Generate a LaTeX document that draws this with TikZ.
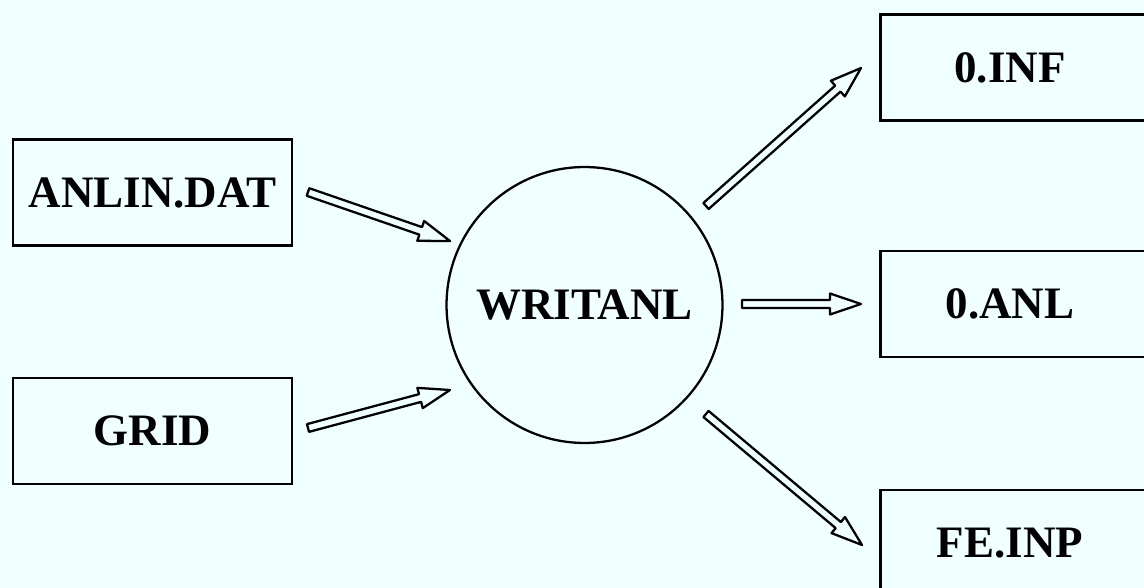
\documentclass[tikz,border=0pt]{standalone}
\usepackage{fontspec}
\setmainfont{Liberation Serif}
\usetikzlibrary{calc}
\definecolor{bgc}{HTML}{F0FFFF}
\tikzset{
  box/.style={draw, line width=1.3pt, minimum width=5.58cm, minimum height=2.12cm, inner sep=0pt},
  txt/.style={font=\fontsize{25.6pt}{30pt}\selectfont\bfseries},
  hollow/.style={draw, line width=1.3pt, line join=round}
}
\newcommand\hollowarrow[2]{%
  \draw[hollow] let \p1=($(#2)-(#1)$), \n1={atan2(\y1,\x1)} in
    ($(#1)+(\n1+90:0.08cm)$) --
    ($(#2)+(\n1+180:0.62cm)+(\n1+90:0.08cm)$) --
    ($(#2)+(\n1+180:0.62cm)+(\n1+90:0.21cm)$) --
    (#2) --
    ($(#2)+(\n1+180:0.62cm)+(\n1-90:0.21cm)$) --
    ($(#2)+(\n1+180:0.62cm)+(\n1-90:0.08cm)$) --
    ($(#1)+(\n1-90:0.08cm)$) -- cycle;}
\begin{document}
\begin{tikzpicture}[x=0.02cm,y=-0.02cm]
\fill[bgc] (0,0) rectangle (1144,588);
\useasboundingbox (0,0) rectangle (1144,588);
\begin{scope}
\clip (0,0) rectangle (1144,588);
% left boxes
\node[box, txt] (anlin) at (152.5,192.5) {ANLIN.DAT};
\node[box, txt] (grid) at (152.5,431) {GRID};
% central process
\node[draw, circle, line width=1.3pt, minimum size=5.52cm, inner sep=0pt, txt] (writ) at (584.5,305) {WRITANL};
% right boxes (extend past right edge)
\node[box] (inf) at (1020,67.5) {};
\node[txt] (inft) at (1010,67.5) {0.INF};
\node[box] (anl) at (1020,304) {};
\node[txt] (anlt) at (1010,304) {0.ANL};
\node[box] (fe) at (1020,543) {};
\node[txt] (fet) at (1010,543) {FE.INP};
% arrow end points
\coordinate (a1s) at (308,192); \coordinate (a1e) at (450,241);
\coordinate (a2s) at (308,428); \coordinate (a2e) at (450,390);
\coordinate (a3s) at (706,206); \coordinate (a3e) at (861,68);
\coordinate (a4s) at (742,304); \coordinate (a4e) at (861,304);
\coordinate (a5s) at (706,414); \coordinate (a5e) at (862,545);
\hollowarrow{a1s}{a1e}
\hollowarrow{a2s}{a2e}
\hollowarrow{a3s}{a3e}
\hollowarrow{a4s}{a4e}
\hollowarrow{a5s}{a5e}
\end{scope}
\end{tikzpicture}
\end{document}
